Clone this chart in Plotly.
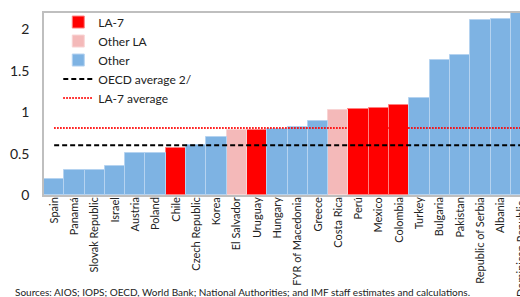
import plotly.graph_objects as go

countries = ["Spain", "Panamá", "Slovak Republic", "Israel", "Austria", "Poland", "Chile",
             "Czech Republic", "Korea", "El Salvador", "Uruguay", "Hungary", "FYR of Macedonia",
             "Greece", "Costa Rica", "Perú", "Mexico", "Colombia", "Turkey", "Bulgaria",
             "Pakistan", "Republic of Serbia", "Albania", "Dominican Republic"]
values = [0.19, 0.30, 0.30, 0.35, 0.51, 0.51, 0.57, 0.61, 0.70, 0.78, 0.79, 0.80, 0.825,
          0.89, 1.03, 1.04, 1.055, 1.09, 1.17, 1.63, 1.695, 2.11, 2.13, 2.30]
groups = ["Other", "Other", "Other", "Other", "Other", "Other", "LA-7",
          "Other", "Other", "Other LA", "LA-7", "Other", "Other",
          "Other", "Other LA", "LA-7", "LA-7", "LA-7", "Other", "Other",
          "Other", "Other", "Other", "Other"]
oecd_avg = 0.60
la7_avg = 0.81

group_order = ["LA-7", "Other LA", "Other"]
group_colors = {"LA-7": "#FF0000", "Other LA": "#F4B9B9", "Other": "#7EB3E3"}
group_lines = {"LA-7": "#FF8080", "Other LA": "#F8D4D4", "Other": "#B5D3F0"}

FONT = "Lato"

fig = go.Figure()
for g in group_order:
    fig.add_trace(go.Bar(
        x=countries,
        y=[v if gg == g else None for v, gg in zip(values, groups)],
        name=g,
        marker=dict(color=group_colors[g], line=dict(color=group_lines[g], width=1)),
    ))

fig.add_trace(go.Scatter(x=countries, y=[oecd_avg] * len(countries), mode="lines",
                         name="OECD average 2/",
                         line=dict(color="black", width=2, dash="5px,3px")))
fig.add_trace(go.Scatter(x=countries, y=[la7_avg] * len(countries), mode="lines",
                         name="LA-7 average",
                         line=dict(color="#FF0000", width=2, dash="1.5px,1.5px")))

# last category label, cut off at the right edge as in the reference
fig.add_annotation(x=1.0, y=0, xref="paper", yref="paper", yshift=-4,
                   text=countries[-1], textangle=-90, showarrow=False,
                   xanchor="center", yanchor="top",
                   font=dict(family=FONT, size=11, color="#222"))

fig.add_annotation(x=-31 / 476, y=-0.533, xref="paper", yref="paper",
                   text="Sources: AIOS; IOPS; OECD, World Bank; National Authorities; and IMF staff estimates and calculations.",
                   showarrow=False, xanchor="left", yanchor="middle",
                   font=dict(family=FONT, size=10, color="#222"))

fig.update_layout(
    width=520, height=297,
    margin=dict(l=44, r=0, t=13, b=102, autoexpand=False),
    paper_bgcolor="white", plot_bgcolor="white",
    barmode="overlay", bargap=0.0,
    font=dict(family=FONT, size=11, color="#222"),
    showlegend=True,
    legend=dict(x=0.03, y=1.03, xanchor="left", yanchor="top",
                bgcolor="rgba(0,0,0,0)", font=dict(size=12, color="#222"),
                itemwidth=30, tracegroupgap=0),
    xaxis=dict(range=[-0.5, 22.95], tickangle=-90, showline=True, linecolor="#BFBFBF",
               linewidth=1.5, mirror=True, ticks="", showgrid=False, zeroline=False,
               ticklabelstandoff=-4,
               tickfont=dict(size=11, color="#222"), fixedrange=True),
    yaxis=dict(range=[0, 2.2], tickvals=[0, 0.5, 1, 1.5, 2], ticktext=["0", "0.5", "1", "1.5", "2"],
               showline=True, linecolor="#BFBFBF", linewidth=1.5, ticks="", showgrid=False,
               zeroline=False, ticklabelstandoff=10,
               tickfont=dict(size=14, color="#222"), fixedrange=True),
)

fig.write_html("out.html", config={"displayModeBar": False},
               post_script="document.body.style.margin='0';document.body.style.overflow='hidden';")
